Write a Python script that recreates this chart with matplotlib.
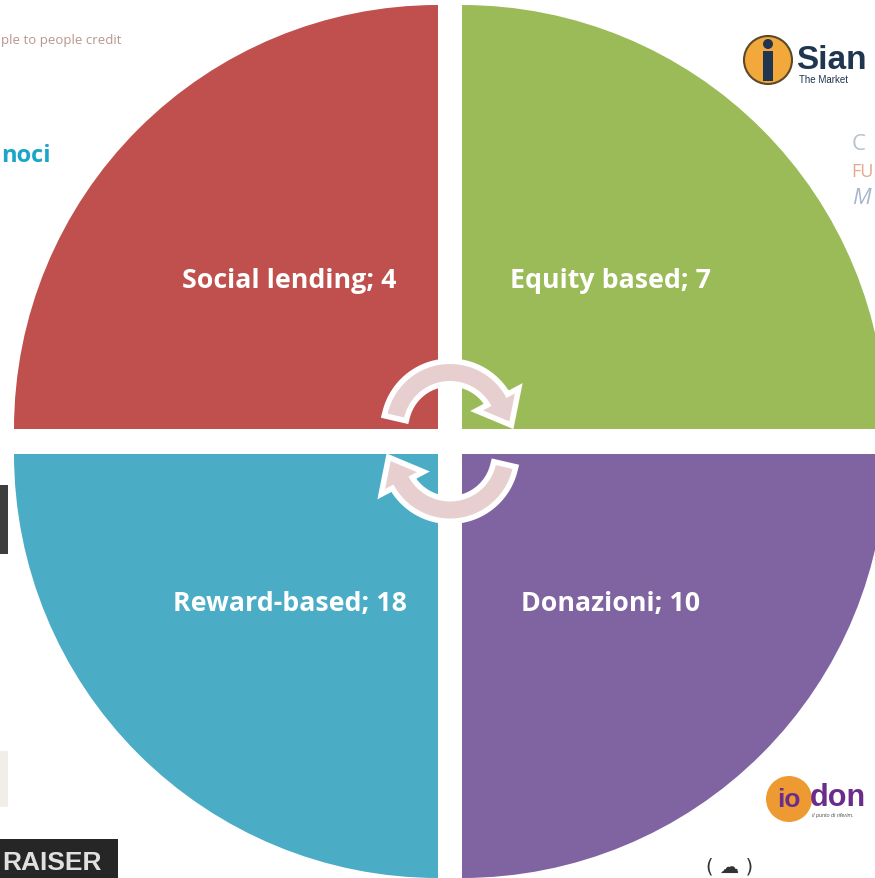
import numpy as np
import matplotlib
matplotlib.use("Agg")
import matplotlib.pyplot as plt
from matplotlib.patches import Wedge, Polygon, Rectangle, Circle

W, H = 875, 879

# ---- data ----
categories = ["Social lending", "Equity based", "Reward-based", "Donazioni"]
values = [4, 7, 18, 10]
colors = ["#C0504D", "#9BBB59", "#4BACC6", "#8064A2"]

fig = plt.figure(figsize=(W / 100, H / 100), dpi=100)
ax = fig.add_axes([0, 0, 1, 1])
ax.set_xlim(0, W)
ax.set_ylim(0, H)
ax.axis("off")

def Y(py):
    return H - py

# quadrant layout (SmartArt style: equal quadrants)
R = 424
corners = [(438, 430), (462, 430), (438, 455), (462, 455)]
angles = [(90, 180), (0, 90), (180, 270), (270, 360)]
label_pos = [(289, 281), (611, 281), (290, 604), (611, 604)]

for (cx, cy), (a1, a2), col in zip(corners, angles, colors):
    ax.add_patch(Wedge((cx, Y(cy)), R, a1, a2, facecolor=col, edgecolor="none", zorder=2))

for (lx, ly), cat, val in zip(label_pos, categories, values):
    ax.text(lx, Y(ly), f"{cat}; {val}", color="white", fontsize=19.3, fontweight="bold",
            family="Open Sans", ha="center", va="center", zorder=5)

# ---- circular arrows ----
def arc_arrow(center, t_start, t_end, r_mid=55.5, half=8.5, head_half=18, head_len=22):
    cx, cy = center
    ts = np.radians(np.linspace(t_start, t_end, 60))
    outer = np.c_[cx + (r_mid + half) * np.cos(ts), cy + (r_mid + half) * np.sin(ts)]
    inner = np.c_[cx + (r_mid - half) * np.cos(ts), cy + (r_mid - half) * np.sin(ts)]
    te = np.radians(t_end)
    sgn = -1 if t_end < t_start else 1
    d = np.array([np.cos(te + sgn * np.pi / 2), np.sin(te + sgn * np.pi / 2)])
    rad = np.array([np.cos(te), np.sin(te)])
    base = np.array([cx, cy]) + r_mid * rad
    w_out = base + head_half * rad
    w_in = base - head_half * rad
    tip = base + head_len * d
    pts = np.vstack([outer, w_out, tip, w_in, inner[::-1]])
    return pts

pink = "#E7CFD0"
for pts in [arc_arrow((450, Y(429)), 167, 28), arc_arrow((450, Y(455.5)), -13, -152)]:
    ax.add_patch(Polygon(pts, closed=True, facecolor="white", edgecolor="white",
                         linewidth=8, joinstyle="miter", zorder=6))
    ax.add_patch(Polygon(pts, closed=True, facecolor=pink, edgecolor="none", zorder=7))

# ---- background logo fragments ----
ax.text(1, Y(40), "ple to people credit", color="#B8978A", fontsize=9.5,
        family="Open Sans", ha="left", va="center", zorder=1)
ax.text(1, Y(156), "noci", color="#1BA5C9", fontsize=17, fontweight="bold",
        family="Open Sans", ha="left", va="center", zorder=1)

# Siamo logo
ax.add_patch(Circle((768, Y(61)), 24, facecolor="#F2A83A", edgecolor="#5A4A2A", lw=1.5, zorder=1))
ax.add_patch(Circle((768, Y(45)), 5, facecolor="#1F3550", edgecolor="none", zorder=1))
ax.add_patch(Rectangle((763, Y(82)), 10, 30, facecolor="#1F3550", edgecolor="none", zorder=1))
ax.text(796, Y(60), "Sian", color="#1F3550", fontsize=24, fontweight="bold",
        family="Liberation Sans", ha="left", va="center", zorder=1)
ax.text(799, Y(80), "The Market", color="#1F3550", fontsize=7,
        family="Liberation Sans", ha="left", va="center", zorder=1)

# CFM fragment
ax.text(852, Y(145), "C", color="#B5C3CF", fontsize=16, family="Open Sans", ha="left", va="center", zorder=1)
ax.text(851, Y(172), "FU", color="#E3A88D", fontsize=13, family="Open Sans", ha="left", va="center", zorder=1)
ax.text(852, Y(198), "M", color="#A7B6CC", fontsize=16, family="Open Sans", style="italic",
        ha="left", va="center", zorder=1)

# left side fragments
ax.add_patch(Rectangle((0, Y(555)), 8, 69, facecolor="#3E3E3E", edgecolor="none", zorder=1))
ax.add_patch(Rectangle((0, Y(808)), 8, 56, facecolor="#F1EDE8", edgecolor="none", zorder=1))
ax.add_patch(Rectangle((0, 0), 118, Y(840), facecolor="#262626", edgecolor="none", zorder=1))
ax.text(2, Y(863), "RAISER", color="#E0E0E0", fontsize=19, fontweight="bold",
        family="Liberation Sans", ha="left", va="center", zorder=1.5)

# iodona logo
ax.add_patch(Circle((789, Y(800)), 23, facecolor="#EE9A32", edgecolor="none", zorder=1))
ax.text(789, Y(800), "io", color="#6B2D8A", fontsize=19, fontweight="bold",
        family="Liberation Sans", ha="center", va="center", zorder=1.5)
ax.text(810, Y(798), "don", color="#6B2D8A", fontsize=22, fontweight="bold",
        family="Liberation Sans", ha="left", va="center", zorder=1.5)
ax.text(812, Y(816), "il punto di riferim.", color="#555555", fontsize=4,
        family="Liberation Sans", style="italic", ha="left", va="center", zorder=1.5)

# cloud sketch fragment
ax.text(730, Y(877), "( ☁ )", color="#333333", fontsize=14, family="DejaVu Sans",
        ha="center", va="bottom", zorder=1)

fig.savefig("out.png", dpi=100)
